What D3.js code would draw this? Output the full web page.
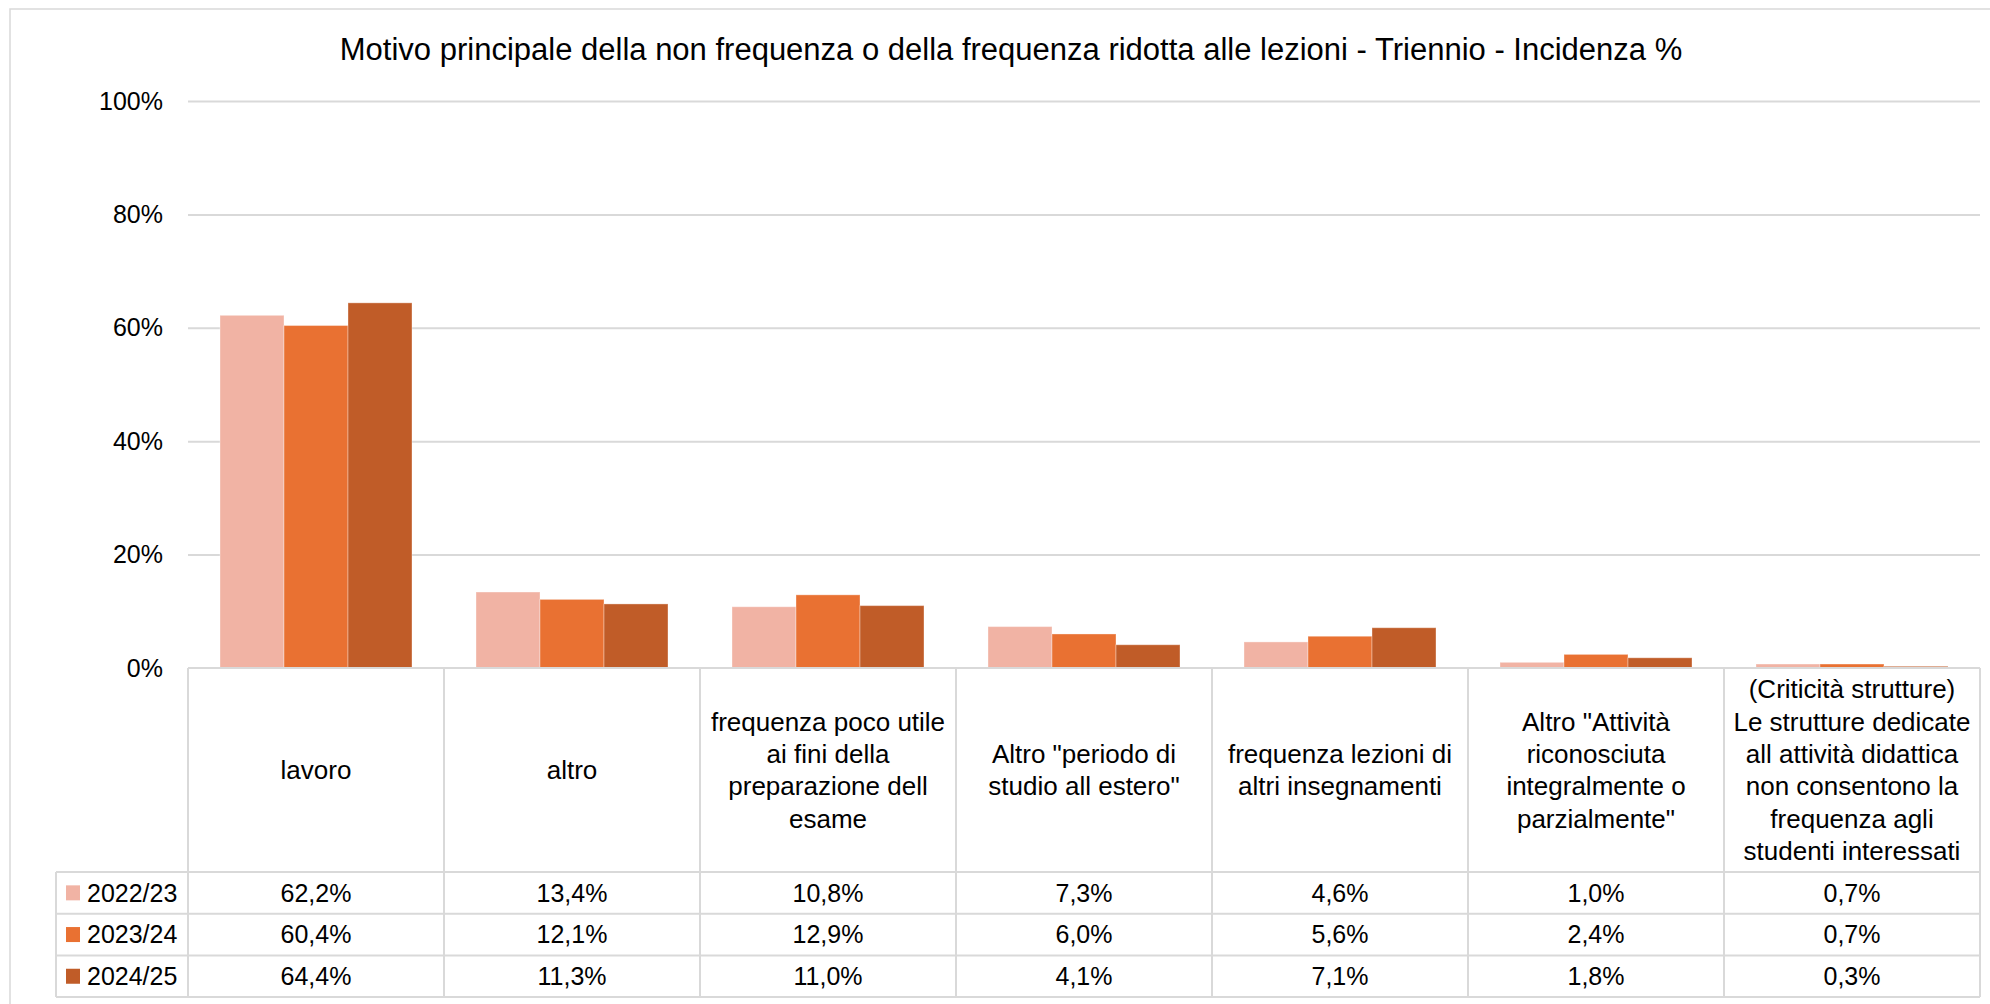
<!DOCTYPE html>
<html>
<head>
<meta charset="utf-8">
<script src="https://cdn.jsdelivr.net/npm/d3@7"></script>
<style>
  html, body { margin: 0; padding: 0; background: #fff; }
  svg { display: block; font-family: "Liberation Sans", Arial, sans-serif; }
</style>
</head>
<body>
<svg id="chart" width="1990" height="1004"></svg>
<script>
// Chart data
const categories = [
  'lavoro',
  'altro',
  'frequenza poco utile\nai fini della\npreparazione dell\nesame',
  'Altro "periodo di\nstudio all estero"',
  'frequenza lezioni di\naltri insegnamenti',
  'Altro "Attività\nriconosciuta\nintegralmente o\nparzialmente"',
  '(Criticità strutture)\nLe strutture dedicate\nall attività didattica\nnon consentono la\nfrequenza agli\nstudenti interessati'
];
const seriesNames = ['2022/23', '2023/24', '2024/25'];
const values2223 = [0.622, 0.134, 0.108, 0.073, 0.046, 0.010, 0.007];
const values2324 = [0.604, 0.121, 0.129, 0.060, 0.056, 0.024, 0.007];
const values2425 = [0.644, 0.113, 0.110, 0.041, 0.071, 0.018, 0.003];
const seriesColors = ['#F1B3A4', '#E97132', '#C05C28'];
const yTicks = [0, 0.2, 0.4, 0.6, 0.8, 1];
const titleText = 'Motivo principale della non frequenza o della frequenza ridotta alle lezioni - Triennio - Incidenza %';

const seriesValues = [values2223, values2324, values2425];

// Layout
const plotLeft = 188, plotRight = 1980;
const plotTop = 101, plotBottom = 668;
const headerBottom = 872;
const rowHeight = 41.7;
const legendLeft = 56;
const gridColor = '#d9d9d9';
const textColor = '#000';

const svg = d3.select('#chart');

// Outer chart border (only top/left visible in the frame)
svg.append('rect')
  .attr('x', 10).attr('y', 9)
  .attr('width', 2000).attr('height', 1010)
  .attr('fill', '#fff')
  .attr('stroke', gridColor).attr('stroke-width', 1.5);

// Title
svg.append('text')
  .attr('x', 1011).attr('y', 60)
  .attr('text-anchor', 'middle')
  .attr('font-size', 31)
  .attr('fill', textColor)
  .text(titleText);

// Scales
const x0 = d3.scaleBand().domain(d3.range(categories.length)).range([plotLeft, plotRight]).padding(0);
const bw = x0.bandwidth();
const x1 = d3.scaleBand().domain(d3.range(seriesNames.length)).range([bw * 0.125, bw * 0.875]).padding(0);
const y = d3.scaleLinear().domain([0, 1]).range([plotBottom, plotTop]);

const itLocale = d3.formatLocale({ decimal: ',', thousands: '.', grouping: [3], currency: ['€', ''] });
const fmtTick = itLocale.format('.0%');
const fmtVal = itLocale.format('.1%');

// Y axis with gridlines
const yAxis = svg.append('g')
  .attr('transform', 'translate(' + plotLeft + ',0)')
  .call(d3.axisLeft(y).tickValues(yTicks).tickFormat(fmtTick)
    .tickSize(-(plotRight - plotLeft)).tickPadding(25));
yAxis.select('.domain').remove();
yAxis.selectAll('.tick line').attr('stroke', gridColor).attr('stroke-width', 2);
yAxis.selectAll('.tick text')
  .attr('font-size', 25)
  .attr('font-family', '"Liberation Sans", Arial, sans-serif')
  .attr('fill', textColor);
yAxis.selectAll('.tick').filter(d => d === 0).select('line').remove();

// Bars
const groups = svg.append('g').selectAll('g')
  .data(categories.map((c, i) => i))
  .join('g')
  .attr('transform', i => 'translate(' + x0(i) + ',0)');

groups.selectAll('rect')
  .data(i => seriesValues.map((vals, s) => ({ s: s, v: vals[i] })))
  .join('rect')
  .attr('x', d => x1(d.s))
  .attr('y', d => y(d.v))
  .attr('width', x1.bandwidth())
  .attr('height', d => plotBottom - y(d.v))
  .attr('fill', d => seriesColors[d.s])
  .attr('stroke', '#fff').attr('stroke-opacity', 0.35).attr('stroke-width', 1);

// Data table
const table = svg.append('g')
  .attr('fill', 'none')
  .attr('stroke', gridColor)
  .attr('stroke-width', 2);

const rowTops = d3.range(seriesNames.length + 1).map(r => headerBottom + r * rowHeight);
const tableBottom = rowTops[rowTops.length - 1];

// horizontal lines
table.append('line').attr('x1', plotLeft).attr('x2', plotRight).attr('y1', plotBottom).attr('y2', plotBottom);
rowTops.forEach(ry => {
  table.append('line').attr('x1', legendLeft).attr('x2', plotRight).attr('y1', ry).attr('y2', ry);
});
// vertical lines
table.append('line').attr('x1', legendLeft).attr('x2', legendLeft).attr('y1', headerBottom).attr('y2', tableBottom);
d3.range(categories.length + 1).forEach(i => {
  const vx = i < categories.length ? x0(i) : plotRight;
  table.append('line').attr('x1', vx).attr('x2', vx).attr('y1', plotBottom).attr('y2', tableBottom);
});

// Category header labels
const lineH = 32.4;
const headerMid = (plotBottom + headerBottom) / 2;
categories.forEach((c, i) => {
  const lines = c.split('\n');
  const t = svg.append('text')
    .attr('text-anchor', 'middle')
    .attr('font-size', 26)
    .attr('fill', textColor);
  lines.forEach((ln, k) => {
    t.append('tspan')
      .attr('x', x0(i) + bw / 2)
      .attr('y', headerMid + (k - (lines.length - 1) / 2) * lineH)
      .attr('dy', '0.35em')
      .text(ln);
  });
});

// Value rows and legend keys
seriesNames.forEach((name, s) => {
  const cy = rowTops[s] + rowHeight / 2;
  svg.append('rect')
    .attr('x', 66).attr('y', cy - 7.5)
    .attr('width', 14).attr('height', 15)
    .attr('fill', seriesColors[s]);
  svg.append('text')
    .attr('x', 87).attr('y', cy).attr('dy', '0.35em')
    .attr('font-size', 25).attr('fill', textColor)
    .text(name);
  seriesValues[s].forEach((v, i) => {
    svg.append('text')
      .attr('x', x0(i) + bw / 2).attr('y', cy).attr('dy', '0.35em')
      .attr('text-anchor', 'middle')
      .attr('font-size', 25).attr('fill', textColor)
      .text(fmtVal(v));
  });
});
</script>
</body>
</html>
